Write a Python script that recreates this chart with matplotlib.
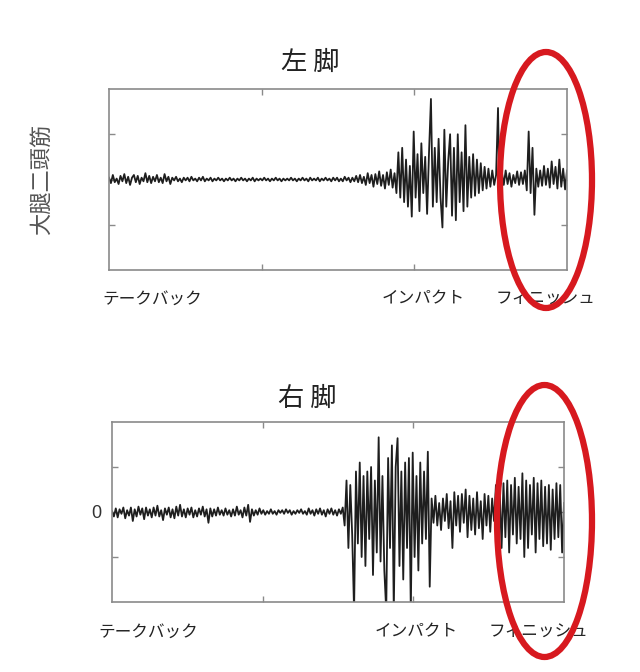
import matplotlib
matplotlib.use("Agg")
import matplotlib.pyplot as plt
from matplotlib.patches import Ellipse
import numpy as np

plt.rcParams['font.family'] = ['Noto Sans CJK JP', 'DejaVu Sans']

# ---- data (EMG traces, normalised so that 0 is the centre line) ----
left_leg = [
    0.02, -0.04, 0.05, -0.03, 0.01, -0.05, 0.04, -0.02, 0.06, -0.04,
    0.03, -0.06, 0.02, 0.05, -0.03, 0.04, -0.05, 0.02, -0.02, 0.07,
    -0.03, 0.04, -0.04, 0.03, -0.02, 0.05, -0.03, 0.02, -0.04, 0.06,
    -0.02, 0.03, -0.05, 0.02, -0.01, 0.03, -0.02, 0.01, -0.03, 0.02,
    -0.01, 0.02, -0.02, 0.03, -0.01, 0.01, -0.02, 0.02, -0.01, 0.03,
    -0.02, 0.01, -0.01, 0.02, -0.02, 0.01, -0.01, 0.02, -0.01, 0.01,
    -0.02, 0.01, -0.01, 0.02, -0.01, 0.01, -0.02, 0.01, -0.01, 0.02,
    -0.01, 0.01, -0.02, 0.01, -0.01, 0.02, -0.02, 0.01, -0.01, 0.01,
    -0.01, 0.02, -0.01, 0.01, -0.02, 0.01, -0.01, 0.02, -0.01, 0.01,
    -0.02, 0.01, -0.01, 0.01, -0.01, 0.02, -0.01, 0.01, -0.02, 0.01,
    -0.01, 0.02, -0.01, 0.01, -0.02, 0.02, -0.01, 0.01, -0.01, 0.02,
    -0.02, 0.01, -0.01, 0.02, -0.01, 0.01, -0.02, 0.02, -0.01, 0.02,
    -0.02, 0.01, -0.02, 0.03, -0.01, 0.02, -0.03, 0.02, -0.02, 0.04,
    -0.03, 0.05, -0.04, 0.03, -0.06, 0.07, -0.04, 0.05, -0.08, 0.06,
    -0.05, 0.09, -0.07, 0.05, -0.10, 0.08, -0.06, 0.11, -0.09, 0.07,
    -0.15, 0.30, -0.20, 0.35, -0.25, 0.22, -0.30, 0.15, -0.41, 0.53,
    -0.20, 0.28, -0.35, 0.40, -0.15, 0.25, -0.38, 0.30, 0.89, -0.30,
    0.35, -0.25, 0.45, -0.20, -0.53, 0.55, -0.30, 0.20, 0.50, -0.40,
    0.35, -0.45, 0.50, -0.25, 0.30, -0.35, 0.60, -0.30, 0.25, -0.20,
    0.28, -0.18, 0.22, -0.15, 0.18, -0.12, 0.14, -0.10, 0.12, -0.08,
    0.10, -0.06, 0.05, 0.79, -0.41, 0.08, -0.06, 0.10, -0.05, 0.07,
    -0.08, 0.05, -0.04, 0.09, -0.06, 0.08, -0.05, 0.10, -0.12, 0.53,
    -0.15, 0.35, -0.39, 0.12, -0.08, 0.10, -0.07, 0.15, -0.06, 0.12,
    -0.09, 0.20, -0.05, 0.14, -0.10, 0.22, -0.08, 0.12, -0.11, 0.10,
]

right_leg = [
    0.01, -0.05, 0.04, -0.06, 0.03, -0.02, 0.05, -0.07, 0.02, -0.04,
    0.05, -0.10, 0.03, -0.05, 0.06, -0.03, 0.04, -0.08, 0.05, -0.04,
    0.03, -0.06, 0.05, -0.04, 0.07, -0.05, 0.02, -0.09, 0.04, -0.03,
    0.05, -0.06, 0.03, -0.07, 0.06, -0.04, 0.08, -0.05, 0.03, -0.06,
    0.04, -0.03, 0.05, -0.06, 0.02, -0.05, 0.04, -0.03, 0.06, -0.05,
    0.03, -0.12, 0.04, -0.05, 0.03, -0.04, 0.05, -0.03, 0.02, -0.04,
    0.04, -0.03, 0.02, -0.05, 0.03, -0.04, 0.06, -0.03, 0.02, -0.06,
    0.05, -0.04, 0.08, -0.11, 0.03, -0.04, 0.02, -0.03, 0.04, -0.02,
    0.02, -0.03, 0.01, -0.02, 0.03, -0.02, 0.01, -0.03, 0.02, -0.01,
    0.02, -0.02, 0.03, -0.01, 0.02, -0.03, 0.01, -0.02, 0.02, -0.01,
    0.03, -0.02, 0.01, -0.03, 0.04, -0.02, 0.02, -0.04, 0.03, -0.02,
    0.04, -0.03, 0.02, -0.05, 0.03, -0.02, 0.04, -0.03, 0.02, -0.04,
    0.03, -0.02, 0.05, -0.15, 0.35, -0.40, 0.30, -0.25, -1.10, 0.45,
    -0.35, 0.55, -0.50, 0.40, -0.60, 0.45, -0.30, 0.50, -0.70, 0.35,
    -0.45, 0.83, -0.55, 0.40, -0.65, -1.10, 0.60, -0.40, 0.74, -1.10,
    0.50, 0.82, -0.60, 0.45, -0.75, 0.55, -0.40, 0.60, -1.10, 0.66,
    -0.50, 0.40, -0.65, 0.55, -0.35, 0.45, -0.30, 0.67, -0.83, 0.15,
    -0.12, 0.18, -0.15, 0.10, -0.20, 0.15, -0.10, 0.20, -0.18, 0.12,
    -0.40, 0.22, -0.15, 0.18, -0.22, 0.20, -0.12, 0.25, -0.28, 0.18,
    -0.20, 0.15, -0.25, 0.22, -0.18, 0.12, -0.30, 0.20, -0.15, 0.18,
    -0.22, 0.15, -0.10, 0.30, -0.35, 0.25, -0.40, 0.32, -0.28, 0.35,
    -0.45, 0.30, -0.25, 0.38, -0.35, 0.28, -0.30, 0.43, -0.50, 0.35,
    -0.40, 0.30, -0.25, 0.38, -0.45, 0.32, -0.30, 0.35, -0.38, 0.28,
    -0.35, 0.30, -0.42, 0.25, -0.30, 0.32, -0.28, 0.30, -0.45, 0.10,
]

titles = ["左 脚", "右 脚"]
phase_labels = ["テークバック", "インパクト", "フィニッシュ"]
muscle_label = "大腿二頭筋"

W, H = 640, 672
fig = plt.figure(figsize=(W / 100, H / 100), dpi=100)
fig.patch.set_facecolor("white")


def px_box(x0, y0, x1, y1):
    return [x0 / W, 1 - y1 / H, (x1 - x0) / W, (y1 - y0) / H]


def fx(x):
    return x / W


def fy(y):
    return 1 - y / H


spine_col = "#8a8a8a"
line_col = "#1e1e1e"

boxes = [px_box(109, 89, 567, 270), px_box(112, 422, 564, 602)]
series = [left_leg, right_leg]
title_pos = [(310, 62), (307, 398)]
label_pos = [[(152, 299), (423, 299), (545, 299)],
             [(148, 632), (416, 632), (538, 632)]]
ellipses = [(546, 180, 92, 256), (544.5, 521, 95, 272)]

for k in range(2):
    ax = fig.add_axes(boxes[k])
    y = np.array(series[k])
    x = np.arange(len(y))
    ax.plot(x, y, color=line_col, lw=1.3)
    xmax = len(y) - 1
    ax.set_xlim(0, xmax)
    ax.set_ylim(-1, 1)
    ax.set_xticks([xmax / 3, 2 * xmax / 3])
    ax.set_xticklabels([])
    ax.set_yticks([-0.5, 0, 0.5])
    if k == 1:
        ax.set_yticklabels(["", "0", ""], fontsize=13, color="#333333",
                           family=['Liberation Sans', 'DejaVu Sans'])
    else:
        ax.set_yticklabels([])
    ax.tick_params(direction="in", length=4, width=1, color=spine_col,
                   top=True, right=True, pad=8)
    for s in ax.spines.values():
        s.set_color(spine_col)
        s.set_linewidth(1.2)

    tx, ty = title_pos[k]
    fig.text(fx(tx), fy(ty), titles[k], ha="center", va="center",
             fontsize=19, color="#222222")
    for lab, (lx, ly) in zip(phase_labels, label_pos[k]):
        fig.text(fx(lx), fy(ly), lab, ha="center", va="center",
                 fontsize=12, color="#222222")

    cx, cy, ew, eh = ellipses[k]
    e = Ellipse((fx(cx), fy(cy)), ew / W, eh / H, transform=fig.transFigure,
                fill=False, edgecolor="#d7191f", lw=4.5, zorder=10)
    fig.add_artist(e)

fig.text(fx(41), fy(179), muscle_label, rotation=90, ha="center", va="center",
         fontsize=16, color="#555555")

fig.savefig("out.png", dpi=100, facecolor="white")
